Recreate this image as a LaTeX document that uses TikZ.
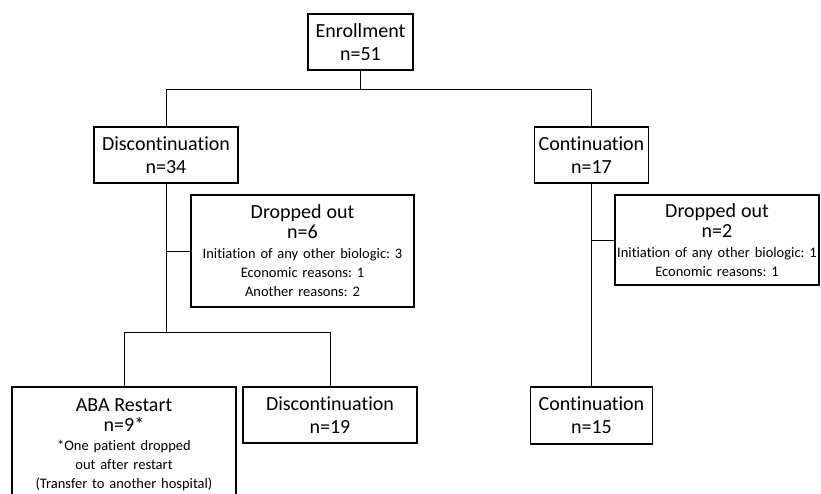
\documentclass[tikz,border=0pt]{standalone}
\usepackage{fontspec}
\setmainfont{Carlito}[Ligatures=NoCommon]
\usepackage{tikz}
\frenchspacing
\tikzstyle{box} = [draw=black, line width=1.6pt, inner sep=0pt, align=center, font={\fontsize{20}{23}\selectfont}]
\tikzstyle{note} = [box, font={\fontsize{14.5}{19}\selectfont}]
\tikzstyle{link} = [line width=0.9pt]
\newcommand{\hd}[1]{{\fontsize{20}{23}\selectfont #1}}

\begin{document}
\begin{tikzpicture}[x=1pt,y=-1pt]
    \useasboundingbox (0,0) rectangle (821,493);
    \node[box,minimum width=105,minimum height=56](0) at (360.5,42){Enrollment\\n=51};
    \node[box,minimum width=144,minimum height=56](1) at (166,155){Discontinuation\\n=34};
    \node[box,minimum width=114,minimum height=56](2) at (591.5,155){Continuation\\n=17};
    \node[note,text width=223,minimum height=112](3) at (302.5,251){\hd{Dropped out}\\[1pt]\hd{n=6}\\[1pt]Initiation of any other biologic: 3\\Economic reasons: 1\\Another reasons: 2};
    \node[note,text width=204,minimum height=90](4) at (717,240){\hd{Dropped out}\\[1pt]\hd{n=2}\\[1pt]Initiation of any other biologic: 1\\Economic reasons: 1};
    \node[note,text width=224,minimum height=116](5) at (124,445){\hd{ABA Restart}\\[1pt]\hd{n=9*}\\[0pt]*One patient dropped\\out after restart\\(Transfer to another hospital)};
    \node[box,minimum width=174,minimum height=56](6) at (330,415){Discontinuation\\n=19};
    \node[box,minimum width=122,minimum height=57](7) at (591.5,415.5){Continuation\\n=15};
    \coordinate(s0) at (360.5,89);
    \coordinate(s1) at (166,332);
    \draw[link](0.south)--(s0)-|(1.north);
    \draw[link](s0)-|(2.north);
    \draw[link](1.south)--(s1);
    \draw[link](3.west)--(3.west-|1.south);
    \draw[link](s1)-|(5.north);
    \draw[link](s1)-|(6.north);
    \draw[link](2.south)--(7.north);
    \draw[link](4.west)--(4.west-|2.south);
  \end{tikzpicture}
\end{document}
